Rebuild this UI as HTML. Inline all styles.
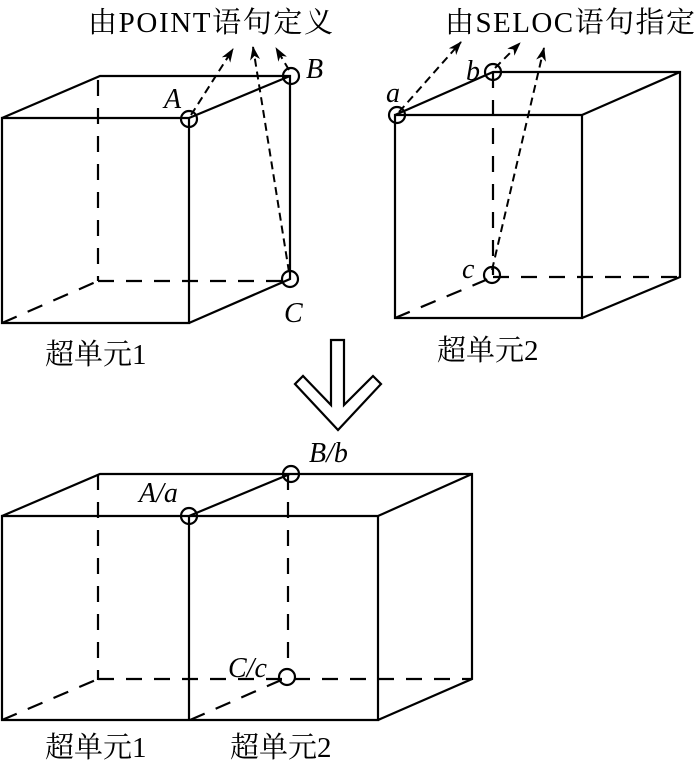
<!DOCTYPE html>
<html><head><meta charset="utf-8"><style>
html,body{margin:0;padding:0;background:#fff}
svg{display:block}
text{font-family:"Liberation Serif","Noto Serif CJK SC","Noto Sans CJK SC",serif;fill:#000;font-size:29px}
.it{font-style:italic;font-size:28px}
</style></head><body>
<svg width="700" height="761" viewBox="0 0 700 761" xmlns="http://www.w3.org/2000/svg">
<defs>
<marker id="ah" markerWidth="14" markerHeight="10" refX="13" refY="5" orient="auto" markerUnits="userSpaceOnUse">
<path d="M0,0 L14,5 L0,10 L4,5 Z" fill="#000"/>
</marker>
</defs>
<g stroke="#000" stroke-width="2.2" fill="none">
<path d="M2,118 H189 V323 H2 Z M2,118 L100,76 H290 V279 L189,323 M189,118 L290,76"/>
<path d="M98,80 V281 M98,281 H290 M2,323 L98,281" stroke-dasharray="16,12"/>
<path d="M395,115 H582 V318 H395 Z M395,115 L493,72 H680 V277 L582,318 M582,115 L680,72"/>
<path d="M493,72 V275 M493,277 H680 M395,318 L493,277" stroke-dasharray="16,12"/>
<path d="M2,516 H378 V720 H2 Z M189,516 V720 M2,516 L100,474 H472 V679 L378,720 M378,516 L472,474 M189,516 L290,474"/>
<path d="M98,474 V680 M288,474 V670 M98,679 H472 M2,720 L98,679 M190,720 L288,677" stroke-dasharray="16,12"/>
</g>
<g stroke="#000" stroke-width="2" fill="none" stroke-dasharray="8,5" marker-end="url(#ah)">
<path d="M191,115 L233,49"/>
<path d="M289,272 L253,47"/>
<path d="M289,70 L276,48"/>
<path d="M399,112 L461,42"/>
<path d="M495,68 L520,43"/>
<path d="M492,270 L544,48"/>
</g>
<g stroke="#000" stroke-width="2.2" fill="none">
<circle cx="189" cy="119" r="8"/><circle cx="291" cy="76" r="8"/><circle cx="290" cy="279" r="8"/>
<circle cx="397" cy="115" r="8"/><circle cx="493" cy="72" r="8"/><circle cx="492" cy="275" r="8"/>
<circle cx="189" cy="516" r="8"/><circle cx="291" cy="474" r="8"/><circle cx="287" cy="677" r="8"/>
</g>
<path d="M331,340 H344 V405 L373,376 L381,384 L338,430 L295,384 L303,376 L331,405 Z" fill="#fff" stroke="#000" stroke-width="2.2"/>
<text x="88" y="32" textLength="245">由POINT语句定义</text>
<text x="445" y="32" textLength="250">由SELOC语句指定</text>
<text x="45" y="364">超单元1</text>
<text x="437" y="360">超单元2</text>
<text x="45" y="757">超单元1</text>
<text x="230" y="757">超单元2</text>
<text x="164" y="108" class="it">A</text>
<text x="306" y="78" class="it">B</text>
<text x="284" y="322" class="it">C</text>
<text x="386" y="102" class="it">a</text>
<text x="466" y="80" class="it">b</text>
<text x="462" y="278" class="it">c</text>
<text x="309" y="462" class="it">B/b</text>
<text x="139" y="502" class="it">A/a</text>
<text x="228" y="677" class="it">C/c</text>
</svg>
</body></html>
